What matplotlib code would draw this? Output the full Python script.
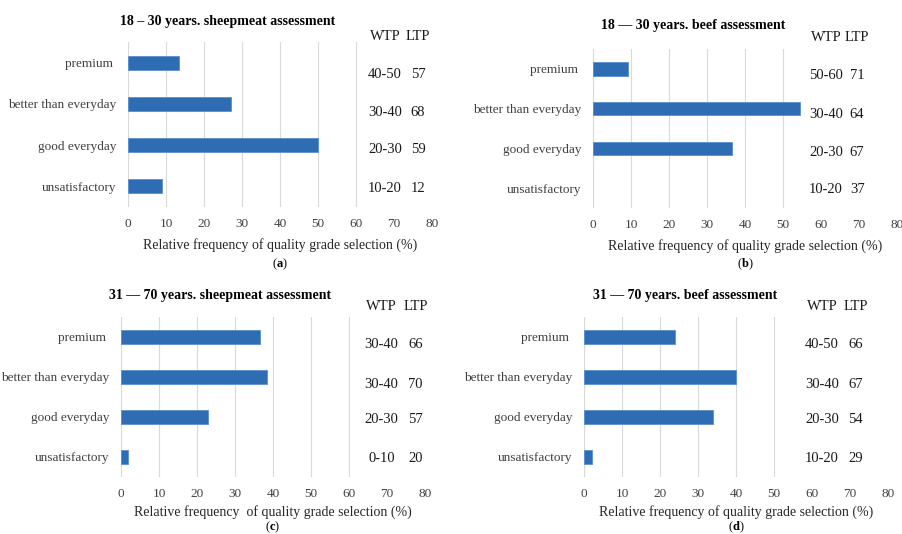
import numpy as np
import matplotlib
matplotlib.use("Agg")
import matplotlib.pyplot as plt

plt.rcParams['font.family'] = ['Liberation Serif', 'DejaVu Serif']
plt.rcParams['mathtext.fontset'] = 'custom'
plt.rcParams['mathtext.rm'] = 'Liberation Serif'
plt.rcParams['mathtext.bf'] = 'Liberation Serif:bold'

categories = ["premium ", "better than everyday", "good everyday", "unsatisfactory"]

freq_a = [13.5, 27.2, 50.0, 9.0]
freq_b = [9.2, 54.6, 36.5, 0.0]
freq_c = [36.5, 38.5, 23.0, 1.8]
freq_d = [24.0, 40.0, 34.0, 2.0]

wtp_a = ["40-50", "30-40", "20-30", "10-20"]
wtp_b = ["50-60", "30-40", "20-30", "10-20"]
wtp_c = ["30-40", "30-40", "20-30", "0-10"]
wtp_d = ["40-50", "30-40", "20-30", "10-20"]

ltp_a = [57, 68, 59, 12]
ltp_b = [71, 64, 67, 37]
ltp_c = [66, 70, 57, 20]
ltp_d = [66, 67, 54, 29]

titles = ["18 \u2013 30 years. sheepmeat assessment",
          "18 \u2014 30 years. beef assessment",
          "31 \u2014 70 years. sheepmeat assessment",
          "31 \u2014 70 years. beef assessment"]
xlabels = ["Relative frequency of quality grade selection (%)",
           "Relative frequency of quality grade selection (%)",
           "Relative frequency  of quality grade selection (%)",
           "Relative frequency of quality grade selection (%)"]
letters = ["a", "b", "c", "d"]

W, H = 903, 534
bar_color = '#2e6db4'
grid_color = '#d9d9d9'
text_gray = '#404040'

# layout in pixels: x0, x1 (axis 0..80), y0, y1 (top/bottom of plot area),
# title centre x, title y, last gridline, wtp/ltp column x (data), header row, row offsets
panels = [
    dict(x0=128, x1=432, y0=42, y1=207, tx=228, ty=22, gmax=60,
         wtp=67.6, ltp=76.3, hy=-0.64, off=[0.29, 0.21, 0.1, 0.05], ly=245, lety=264),
    dict(x0=593, x1=897, y0=49, y1=208, tx=693, ty=26, gmax=50,
         wtp=61.3, ltp=69.5, hy=-0.8, off=[0.16, 0.14, 0.11, 0.03], ly=246, lety=264),
    dict(x0=121, x1=425, y0=317, y1=477, tx=220, ty=295, gmax=60,
         wtp=68.6, ltp=77.5, hy=-0.75, off=[0.18, 0.18, 0.06, 0.03], ly=512, lety=527),
    dict(x0=584, x1=888, y0=317, y1=477, tx=685, ty=295, gmax=50,
         wtp=62.6, ltp=71.5, hy=-0.75, off=[0.18, 0.18, 0.06, 0.03], ly=512, lety=527),
]

freqs = [freq_a, freq_b, freq_c, freq_d]
wtps = [wtp_a, wtp_b, wtp_c, wtp_d]
ltps = [ltp_a, ltp_b, ltp_c, ltp_d]

fig = plt.figure(figsize=(W / 100, H / 100), dpi=100)
fig.patch.set_facecolor('white')

for k, p in enumerate(panels):
    ax = fig.add_axes([p['x0'] / W, 1 - p['y1'] / H,
                       (p['x1'] - p['x0']) / W, (p['y1'] - p['y0']) / H])
    y = np.arange(len(categories))
    vals = np.array(freqs[k])
    ax.barh(y, vals, height=0.34, color=bar_color,
            edgecolor=['#5a8fd0' if v > 0 else 'none' for v in vals], lw=0.6, zorder=3)
    ax.set_xlim(0, 80)
    ax.set_ylim(3.5, -0.5)
    ax.set_xticks(range(0, 90, 10))
    ax.set_yticks(y)
    ax.set_yticklabels(categories)
    ax.tick_params(axis='both', length=0, labelsize=9.5, colors=text_gray)
    ax.tick_params(axis='y', pad=8.5)
    ax.tick_params(axis='x', pad=8)
    for s in ax.spines.values():
        s.set_visible(False)
    ax.xaxis.grid(True, color=grid_color, lw=0.8, zorder=0)
    for tick, gl in zip(ax.get_xticks(), ax.get_xgridlines()):
        if tick > p['gmax']:
            gl.set_visible(False)
    ax.axvline(0, color=grid_color, lw=0.8, zorder=1)

    # WTP / LTP columns
    ax.text(p['wtp'], p['hy'], "WTP", ha='center', va='center', fontsize=10.5, color='#1a1a1a', clip_on=False)
    ax.text(p['ltp'], p['hy'], "LTP", ha='center', va='center', fontsize=10.5, color='#1a1a1a', clip_on=False)
    for i in range(len(categories)):
        ax.text(p['wtp'], i + p['off'][i], wtps[k][i], ha='center', va='center',
                fontsize=10.5, color='#1a1a1a')
        ax.text(p['ltp'], i + p['off'][i], str(ltps[k][i]), ha='center', va='center',
                fontsize=10.5, color='#1a1a1a')

    fig.text(p['tx'] / W, 1 - p['ty'] / H, titles[k], ha='center', va='center',
             fontsize=10, fontweight='bold', color='black')
    fig.text((p['x0'] + p['x1']) / 2 / W, 1 - p['ly'] / H, xlabels[k], ha='center', va='center',
             fontsize=10, color='#262626')
    fig.text((p['x0'] + p['x1']) / 2 / W, 1 - p['lety'] / H, r"($\mathbf{" + letters[k] + "}$)",
             ha='center', va='center', fontsize=9, color='black')

fig.savefig("out.png", dpi=100)
